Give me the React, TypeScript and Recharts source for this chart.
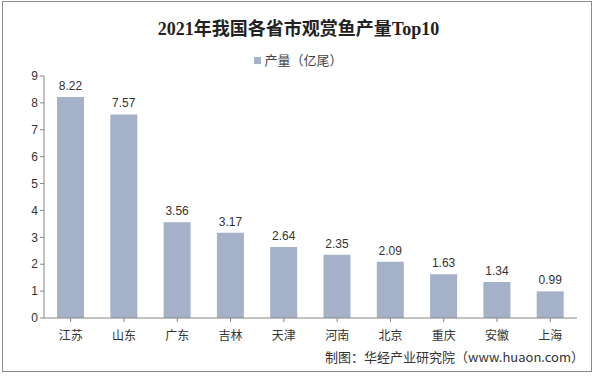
import React from 'react';
import { BarChart, Bar, XAxis, YAxis, LabelList } from 'recharts';

const provinces = ['江苏', '山东', '广东', '吉林', '天津', '河南', '北京', '重庆', '安徽', '上海'];
const output = [8.22, 7.57, 3.56, 3.17, 2.64, 2.35, 2.09, 1.63, 1.34, 0.99];
const yTicks = [0, 1, 2, 3, 4, 5, 6, 7, 8, 9];

const data = provinces.map((name, i) => ({ name, value: output[i] }));

const FONT = '"Liberation Sans", Arial, "Noto Sans CJK SC", sans-serif';
const CJK = '"Noto Sans CJK SC", sans-serif';
const BAR_COLOR = '#A5B0C9';
const AXIS_COLOR = '#868686';

// x-axis labels sit a bit lower than the default in the reference
const CategoryTick = (props: any) => {
  const { x, payload } = props;
  return (
    <text x={x} y={340} textAnchor="middle" fill="#333" fontSize={12} fontFamily={CJK}>
      {payload.value}
    </text>
  );
};

const App = () => {
  return (
    <div style={{ position: 'absolute', left: 0, top: 0, width: 597, height: 376, background: '#fff', fontFamily: FONT }}>
      <div
        style={{
          position: 'absolute', left: 2, top: 1, width: 590, height: 371,
          border: '1px solid #8c8c8c', boxSizing: 'border-box',
        }}
      />
      <div
        style={{
          position: 'absolute', left: 0, top: 14, width: 597, textAlign: 'center',
          fontFamily: '"Liberation Serif", "Noto Sans CJK SC", serif', fontWeight: 'bold', fontSize: 18, color: '#222',
        }}
      >
        2021年我国各省市观赏鱼产量Top10
      </div>
      <div
        style={{
          position: 'absolute', left: 0, top: 50, width: 597, textAlign: 'center',
          fontSize: 13, color: '#444', fontFamily: CJK,
        }}
      >
        <span style={{ display: 'inline-block', width: 7, height: 7, background: BAR_COLOR, marginRight: 3, verticalAlign: 'middle', position: 'relative', top: -1 }} />
        产量（亿尾）
      </div>
      <BarChart
        width={597}
        height={376}
        data={data}
        margin={{ top: 76, right: 20, left: 14, bottom: 28 }}
        barSize={27}
        style={{ position: 'absolute', left: 0, top: 0 }}
      >
        <XAxis
          dataKey="name"
          tickLine={{ stroke: AXIS_COLOR }}
          axisLine={{ stroke: AXIS_COLOR }}
          tick={<CategoryTick />}
          tickSize={4}
          interval={0}
        />
        <YAxis
          width={30}
          domain={[0, 9]}
          ticks={yTicks}
          tickLine={{ stroke: AXIS_COLOR }}
          axisLine={{ stroke: AXIS_COLOR }}
          tick={{ fill: '#333', fontSize: 12, fontFamily: FONT }}
          tickSize={4}
          interval={0}
        />
        <Bar dataKey="value" fill={BAR_COLOR} isAnimationActive={false}>
          <LabelList dataKey="value" position="top" offset={7} fill="#333" fontSize={12} fontFamily={FONT} formatter={(v: number) => v.toFixed(2)} />
        </Bar>
      </BarChart>
      <div
        style={{
          position: 'absolute', right: 13, top: 347, fontSize: 13, color: '#333',
          fontFamily: CJK,
        }}
      >
        制图：华经产业研究院（www.huaon.com）
      </div>
    </div>
  );
};

export default App;
